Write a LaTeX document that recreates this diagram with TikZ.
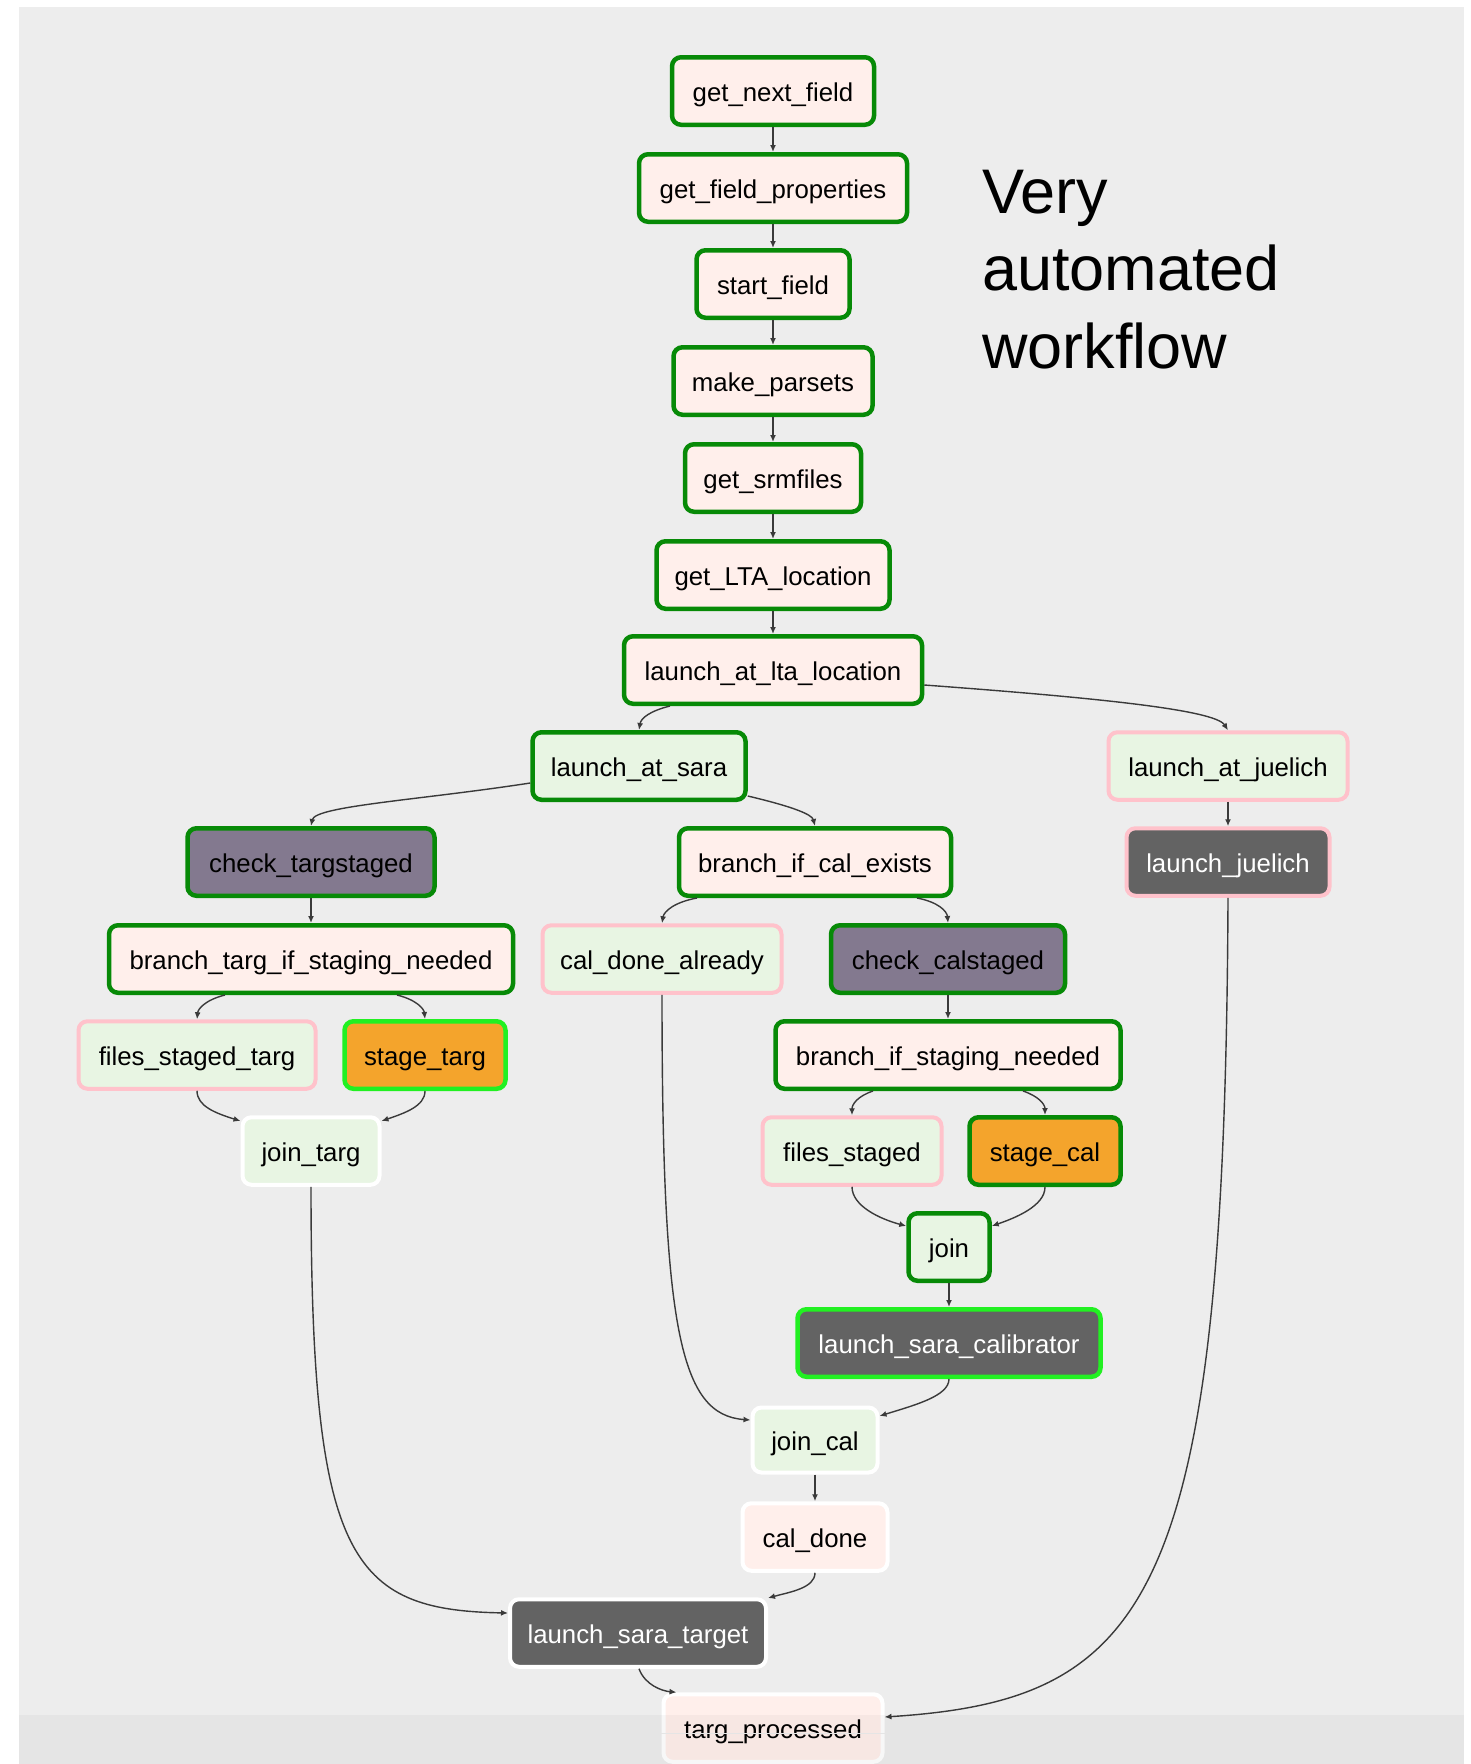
\documentclass[tikz,border=0pt]{standalone}
\usepackage{fontspec}
\setmainfont{Liberation Sans}
\usetikzlibrary{arrows.meta,calc}
\definecolor{bgc}{HTML}{EDEDED}
\definecolor{okgreen}{HTML}{078A07}
\definecolor{limeb}{HTML}{22F022}
\definecolor{pinkb}{HTML}{FFC2CB}
\definecolor{fillpink}{HTML}{FFEFEB}
\definecolor{fillgreen}{HTML}{E8F5E3}
\definecolor{fillpurple}{HTML}{83798F}
\definecolor{fillorange}{HTML}{F4A42C}
\definecolor{filldark}{HTML}{636363}
\definecolor{edgec}{HTML}{3A3A3A}
\begin{document}
\begin{tikzpicture}[x=1pt,y=-1pt,
  task/.style={rounded corners=9pt, line width=4.5pt, inner sep=0pt,
    minimum height=67.5pt, text height=23pt, text depth=2pt,
    font=\fontsize{25.8}{30}\selectfont, text=black},
  gb/.style={draw=okgreen},
  lb/.style={draw=limeb},
  pb/.style={draw=pinkb, line width=4pt},
  wb/.style={draw=white, line width=4pt},
  fp/.style={fill=fillpink},
  fg/.style={fill=fillgreen},
  fu/.style={fill=fillpurple},
  fo/.style={fill=fillorange},
  fd/.style={fill=filldark, text=white},
  conn/.style={draw=edgec, line width=1.4pt, -{Latex[length=7pt,width=6pt]}},
  head/.style={anchor=base west, inner sep=0pt, font=\fontsize{63}{75}\selectfont}
]
\useasboundingbox (0,0) rectangle (1471,1764);
\fill[white] (0,0) rectangle (1471,1764);
\fill[bgc] (19,7) rectangle (1464,1764);

% heading
\node[head] (t1) at (982,213) {Very};
\node[head] (t2) at (982,290) {automated};
\node[head] (t3) at (982,368) {workflow};

% nodes
\node[task,gb,fp,minimum width=202pt] (gnf) at (773,91) {get\_next\_field};
\node[task,gb,fp,minimum width=268pt] (gfp) at (773,188) {get\_field\_properties};
\node[task,gb,fp,minimum width=153pt] (sf) at (773,284) {start\_field};
\node[task,gb,fp,minimum width=199pt] (mp) at (773,381) {make\_parsets};
\node[task,gb,fp,minimum width=176pt] (gsrm) at (773,478) {get\_srmfiles};
\node[task,gb,fp,minimum width=233pt] (glta) at (773,575) {get\_LTA\_location};
\node[task,gb,fp,minimum width=298pt] (lta) at (773,670) {launch\_at\_lta\_location};
\node[task,gb,fg,minimum width=213pt] (sara) at (639,766) {launch\_at\_sara};
\node[task,pb,fg,minimum width=239pt] (jue) at (1228,766) {launch\_at\_juelich};
\node[task,gb,fp,minimum width=272pt] (bce) at (815,862) {branch\_if\_cal\_exists};
\node[task,pb,fd,minimum width=203pt] (ljue) at (1228,862) {launch\_juelich};
\node[task,gb,fu,minimum width=247pt] (cts) at (311,862) {check\_targstaged};
\node[task,gb,fp,minimum width=404pt] (btisn) at (311,959) {branch\_targ\_if\_staging\_needed};
\node[task,pb,fg,minimum width=237pt] (fst) at (197,1055) {files\_staged\_targ};
\node[task,lb,fo,minimum width=161pt] (st) at (425,1055) {stage\_targ};
\node[task,wb,fg,minimum width=137pt] (jt) at (311,1151) {join\_targ};
\node[task,pb,fg,minimum width=239pt] (cda) at (662,959) {cal\_done\_already};
\node[task,gb,fu,minimum width=234pt] (ccs) at (948,959) {check\_calstaged};
\node[task,gb,fp,minimum width=345pt] (bisn) at (948,1055) {branch\_if\_staging\_needed};
\node[task,pb,fg,minimum width=179pt] (fs) at (852,1151) {files\_staged};
\node[task,gb,fo,minimum width=151pt] (sc) at (1045,1151) {stage\_cal};
\node[task,gb,fg,minimum width=81pt] (join) at (949,1247) {join};
\node[task,lb,fd,minimum width=303pt] (lsc) at (949,1343) {launch\_sara\_calibrator};
\node[task,wb,fg,minimum width=125pt,minimum height=65pt] (jc) at (815,1440) {join\_cal};
\node[task,wb,fp,minimum width=145pt] (cd) at (815,1537) {cal\_done};
\node[task,wb,fd,minimum width=256pt] (lst) at (638,1633) {launch\_sara\_target};
\node[task,wb,fp,minimum width=219pt] (tp) at (773,1728) {targ\_processed};

% straight connectors
\draw[conn] (gnf.south) -- (gfp.north);
\draw[conn] (gfp.south) -- (sf.north);
\draw[conn] (sf.south) -- (mp.north);
\draw[conn] (mp.south) -- (gsrm.north);
\draw[conn] (gsrm.south) -- (glta.north);
\draw[conn] (glta.south) -- (lta.north);
\draw[conn] (jue.south) -- (ljue.north);
\draw[conn] (cts.south) -- (btisn.north);
\draw[conn] (ccs.south) -- (bisn.north);
\draw[conn] (join.south) -- (lsc.north);
\draw[conn] (jc.south) -- (cd.north);

% curved connectors
\draw[conn] ($(lta.south)+(-103,0)$) .. controls (650,711) and (641,718) .. (sara.north);
\draw[conn] ($(lta.east)+(0,15)$) .. controls (1100,698) and (1215,710) .. (jue.north);
\draw[conn] ($(sara.west)+(0,17)$) .. controls (420,800) and (315,806) .. (cts.north);
\draw[conn] ($(sara.east)+(0,30)$) .. controls (790,806) and (812,814) .. (bce.north);
\draw[conn] ($(bce.south)+(-118,0)$) .. controls (675,902) and (664,911) .. (cda.north);
\draw[conn] ($(bce.south)+(102,0)$) .. controls (938,902) and (947,911) .. (ccs.north);
\draw[conn] ($(btisn.south)+(-86,0)$) .. controls (205,1000) and (198,1009) .. (fst.north);
\draw[conn] ($(btisn.south)+(86,0)$) .. controls (417,1000) and (424,1009) .. (st.north);
\draw[conn] (fst.south) .. controls (197,1106) and (215,1113) .. ($(jt.west)+(0,-30)$);
\draw[conn] (st.south) .. controls (425,1106) and (405,1113) .. ($(jt.east)+(0,-30)$);
\draw[conn] (jt.south) .. controls (311,1560) and (350,1610) .. ($(lst.west)+(0,-20)$);
\draw[conn] (cda.south) .. controls (662,1330) and (680,1415) .. ($(jc.west)+(0,-20)$);
\draw[conn] ($(bisn.south)+(-75,0)$) .. controls (858,1096) and (852,1104) .. (fs.north);
\draw[conn] ($(bisn.south)+(75,0)$) .. controls (1038,1096) and (1045,1104) .. (sc.north);
\draw[conn] (fs.south) .. controls (852,1206) and (880,1219) .. ($(join.west)+(0,-21)$);
\draw[conn] (sc.south) .. controls (1045,1206) and (1015,1218) .. ($(join.east)+(0,-21)$);
\draw[conn] (lsc.south) .. controls (949,1396) and (915,1405) .. ($(jc.east)+(0,-24)$);
\draw[conn] (cd.south) .. controls (815,1588) and (790,1592) .. ($(lst.east)+(0,-35)$);
\draw[conn] ($(lst.south)+(1,0)$) .. controls (645,1685) and (662,1691) .. ($(tp.north west)+(15,0)$);
\draw[conn] (ljue.south) .. controls (1225,1600) and (1150,1700) .. ($(tp.east)+(0,-11)$);

% bottom band overlay
\fill[black, opacity=0.03] (19,1715) rectangle (1464,1764);
\draw[black!10, line width=1pt] (215,1764) -- (215,1733) -- (1366,1733) -- (1366,1764);
\end{tikzpicture}
\end{document}
